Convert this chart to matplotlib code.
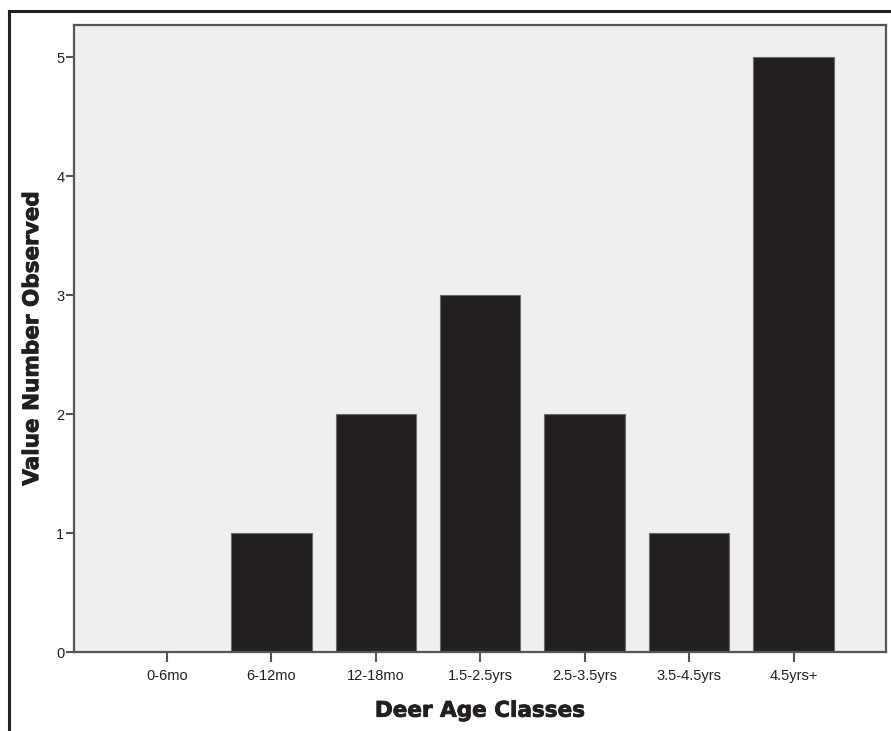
import matplotlib
matplotlib.use("Agg")
import matplotlib.pyplot as plt
from matplotlib.lines import Line2D
import matplotlib.patheffects as pe

categories = ["0-6mo", "6-12mo", "12-18mo", "1.5-2.5yrs", "2.5-3.5yrs", "3.5-4.5yrs", "4.5yrs+"]
values = [0, 1, 2, 3, 2, 1, 5]
yticks = [0, 1, 2, 3, 4, 5]

W, H = 891, 731
fig = plt.figure(figsize=(W / 100, H / 100), dpi=100)
fig.patch.set_facecolor("white")

left, right, top, bottom = 74, 886, 25, 652
ax = fig.add_axes([left / W, 1 - bottom / H, (right - left) / W, (bottom - top) / H])
ax.set_facecolor("#efefef")

x = list(range(len(categories)))
ax.bar(x, values, width=0.77, color="#231f20", edgecolor="#6a6a6a", linewidth=0.8, zorder=2)

ax.set_xlim(-0.89, 6.885)
ax.set_ylim(0, 5.27)
ax.set_xticks(x)
ax.set_xticklabels(categories, fontsize=10.5, family="Liberation Sans", color="#231f20")
ax.set_yticks(yticks)
ax.set_yticklabels([str(v) for v in yticks], fontsize=10.5, family="Liberation Sans", color="#231f20")
ax.tick_params(axis="x", length=7, width=1.5, color="#555555", pad=5)
ax.tick_params(axis="y", length=6, width=1.5, color="#555555", pad=1)

for s in ax.spines.values():
    s.set_color("#555555")
    s.set_linewidth(1.6)

heavy = [pe.withStroke(linewidth=0.6, foreground="#231f20")]
xl = ax.set_xlabel("Deer Age Classes", fontsize=15.5, fontweight="bold", family="DejaVu Sans",
                   color="#231f20", labelpad=13)
yl = ax.set_ylabel("Value Number Observed", fontsize=15.5, fontweight="bold", family="DejaVu Sans",
                   color="#231f20", labelpad=10)
xl.set_path_effects(heavy)
yl.set_path_effects(heavy)

# outer frame (left and top edges)
fig.add_artist(Line2D([9 / W, 9 / W], [0, 1 - 11 / H], color="#231f20", linewidth=2.2,
                      transform=fig.transFigure))
fig.add_artist(Line2D([9 / W, 1], [1 - 11 / H, 1 - 11 / H], color="#231f20", linewidth=2.2,
                      transform=fig.transFigure))

fig.savefig("out.png", dpi=100)
